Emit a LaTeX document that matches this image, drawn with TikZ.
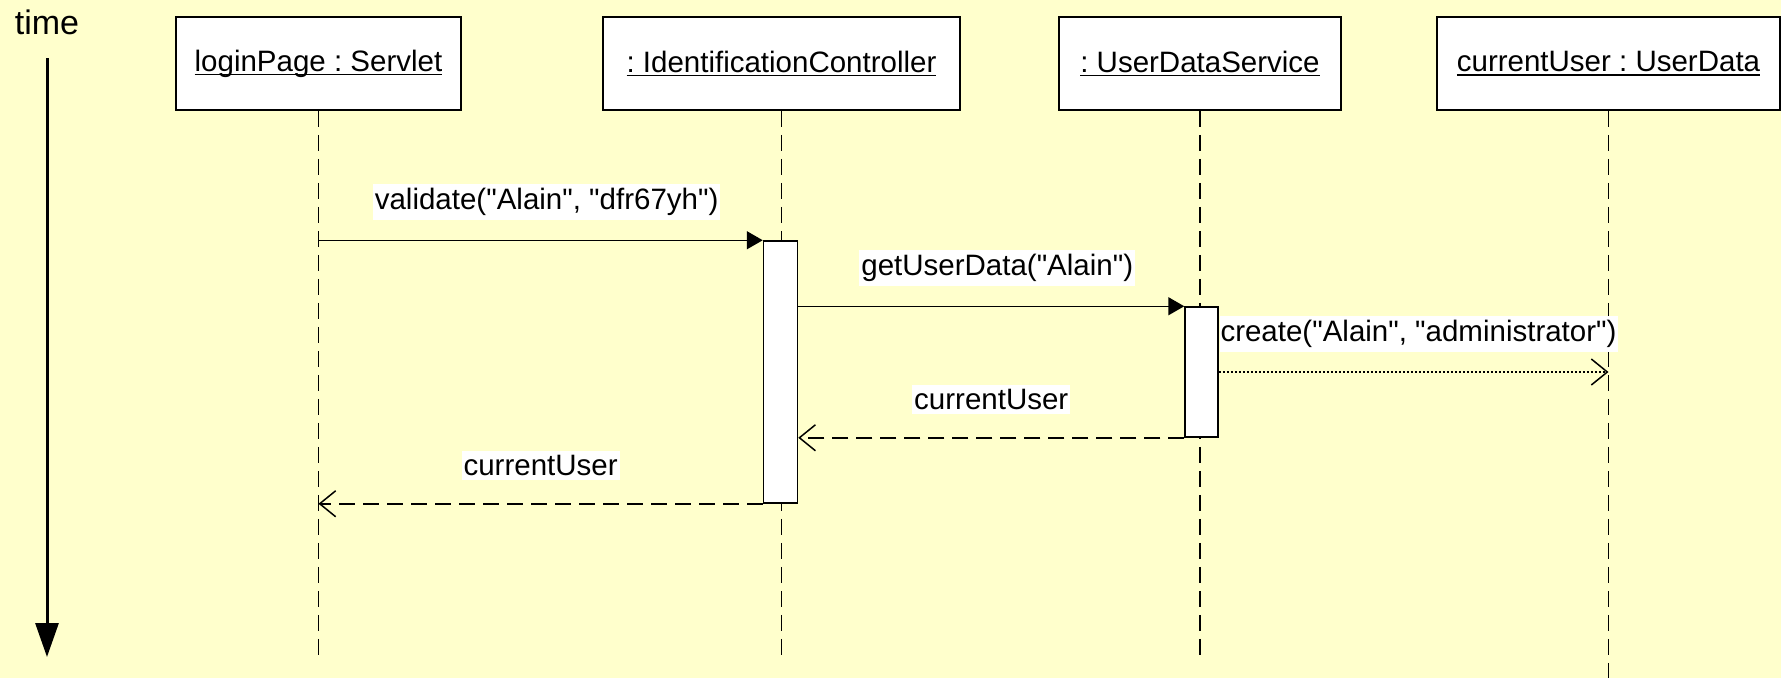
\documentclass[tikz,border=0pt]{standalone}
\usepackage{fontspec}
\setmainfont{Liberation Sans}[Ligatures=TeXOff]
\usetikzlibrary{arrows.meta}
\definecolor{bgyellow}{HTML}{FFFFCC}
\newcommand\headul[1]{\setbox0\hbox{#1}\leavevmode\rlap{\rule[-0.14em]{\wd0}{0.055em}}\box0}
\frenchspacing
\begin{document}
\begin{tikzpicture}[x=1pt,y=-1pt,
  every node/.style={font=\fontsize{29.5}{34}\selectfont},
  header/.style={draw=black, line width=1.5pt, fill=white, inner sep=0pt, minimum height=93pt},
  lifeline/.style={line width=1.5pt, dash pattern=on 16pt off 8pt},
  activation/.style={draw=black, line width=1.5pt, fill=white, inner sep=0pt, minimum width=34pt},
  callmsg/.style={line width=1.5pt, -{Triangle[length=16pt,width=18pt]}},
  returnmsg/.style={line width=1.5pt, dash pattern=on 16pt off 8pt, -{Straight Barb[length=16pt,width=26pt]}},
  createmsg/.style={line width=1.5pt, dash pattern=on 2pt off 2pt, -{Straight Barb[length=16pt,width=26pt]}},
  msglabel/.style={fill=white, inner xsep=2pt, inner ysep=4pt},
]
\fill[bgyellow] (0,0) rectangle (1781,678);
\useasboundingbox (0,0) rectangle (1781,678);

% time axis
\node[font=\fontsize{34}{40}\selectfont, inner sep=0pt, anchor=base] (tlabel) at (47,34) {time};
\coordinate (tstart) at (47,58);
\coordinate (tend) at (47,657);
\draw[line width=3pt, -{Triangle[length=34pt,width=23pt]}] (tstart) -- (tend);

% headers
\node[header, minimum width=285pt] (b1) at (318.5,63.5) {\headul{loginPage : Servlet}};
\node[header, minimum width=357pt] (b2) at (781.5,63.5) {\headul{: IdentificationController}};
\node[header, minimum width=282pt] (b3) at (1200,63.5) {\headul{: UserDataService}};
\node[header, minimum width=343pt] (b4) at (1608.5,63.5) {\headul{currentUser : UserData}};

% lifelines
\coordinate (e1) at (318.5,656);
\coordinate (e2) at (781.5,656);
\coordinate (e3) at (1200,656);
\coordinate (e4) at (1608.5,678);
\draw[lifeline] (b1.south) -- (e1);
\draw[lifeline] (b2.south) -- (e2);
\draw[lifeline] (b3.south) -- (e3);
\draw[lifeline] (b4.south) -- (e4);

% activations
\node[activation, minimum height=262pt] (a1) at (780.5,372) {};
\node[activation, minimum height=130pt, minimum width=33pt] (a2) at (1201.5,372) {};

% messages
\draw[callmsg] (b1.south |- a1.north west) -- node[msglabel, yshift=38.5pt, xshift=6pt]{validate("Alain", "dfr67yh")} (a1.north west);
\draw[callmsg] (a1.east |- a2.north west) -- node[msglabel, yshift=38.5pt, xshift=6pt]{getUserData("Alain")} (a2.north west);
\draw[createmsg] (a2.east) -- node[msglabel, pos=0, anchor=west, yshift=38pt, inner xsep=1pt]{create("Alain", "administrator")} (b4.south |- a2.east);
\draw[returnmsg] (a2.south west) -- node[msglabel, yshift=38.5pt]{currentUser} (a1.east |- a2.south west);
\draw[returnmsg] (a1.south west) -- node[msglabel, yshift=38.5pt]{currentUser} (b1.south |- a1.south west);
\end{tikzpicture}
\end{document}
